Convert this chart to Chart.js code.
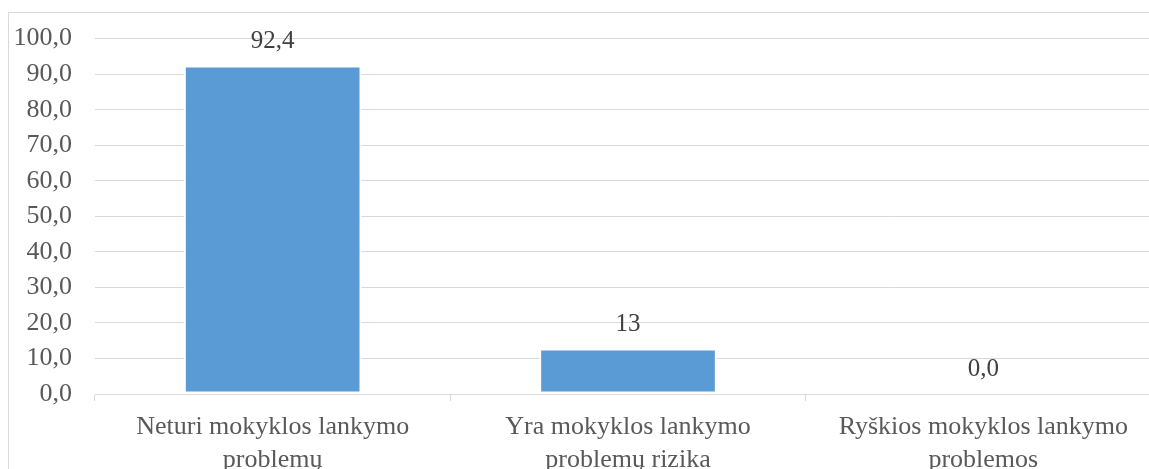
<!DOCTYPE html>
<html>
<head>
<meta charset="utf-8">
<script src="https://cdn.jsdelivr.net/npm/chart.js@4/dist/chart.umd.min.js"></script>
<style>
  html, body { margin: 0; padding: 0; background: #fff; overflow: hidden; width: 1149px; height: 469px; }
  #frame { position: absolute; left: 8px; top: 12px; width: 1200px; height: 500px; border: 1px solid #d9d9d9; box-sizing: border-box; }
  #wrap { position: absolute; left: 0; top: 0; width: 1175px; height: 469px; }
</style>
</head>
<body>
<div id="frame"></div>
<div id="wrap"><canvas id="c" width="1175" height="469"></canvas></div>
<script>
const categories = [
  ["Neturi mokyklos lankymo", "problemų"],
  ["Yra mokyklos lankymo", "problemų rizika"],
  ["Ryškios mokyklos lankymo", "problemos"]
];
const values = [92.4, 12.8, 0.0];
const valueLabels = ["92,4", "13", "0,0"];
const yMin = 0, yMax = 100, yStep = 10;

const FONT = "'Liberation Serif', 'Times New Roman', serif";

const dataLabelPlugin = {
  id: 'dataLabels',
  afterDatasetsDraw(chart) {
    const ctx = chart.ctx;
    const meta = chart.getDatasetMeta(0);
    ctx.save();
    ctx.font = "25px " + FONT;
    ctx.fillStyle = "#404040";
    ctx.textAlign = "center";
    ctx.textBaseline = "alphabetic";
    meta.data.forEach((bar, i) => {
      ctx.fillText(valueLabels[i], bar.x, bar.y - 18);
    });
    ctx.restore();
  }
};

new Chart(document.getElementById('c'), {
  type: 'bar',
  data: {
    labels: categories,
    datasets: [{
      data: values,
      backgroundColor: '#5b9bd5',
      borderColor: '#ffffff',
      borderWidth: 2,
      borderSkipped: false,
      barPercentage: 0.5,
      categoryPercentage: 1.0
    }]
  },
  options: {
    responsive: false,
    animation: false,
    devicePixelRatio: 1,
    layout: { padding: { top: 38, right: 14, left: 0, bottom: 0 } },
    plugins: { legend: { display: false }, tooltip: { enabled: false } },
    scales: {
      x: {
        afterFit(scale) { scale.height = 75; },
        grid: { offset: true, drawOnChartArea: false, drawTicks: true, tickLength: 7, color: '#d9d9d9', lineWidth: 1 },
        border: { display: true, color: '#d9d9d9', width: 1 },
        ticks: { color: '#595959', font: { family: FONT, size: 26, lineHeight: 1.25 }, padding: 10, maxRotation: 0, autoSkip: false }
      },
      y: {
        min: yMin, max: yMax,
        afterFit(scale) { scale.width = 95; },
        grid: { drawTicks: false, color: '#d9d9d9', lineWidth: 1 },
        border: { display: false },
        ticks: {
          stepSize: yStep,
          color: '#595959',
          padding: 23,
          font: { family: FONT, size: 26 },
          callback: (v) => Number(v).toFixed(1).replace('.', ',')
        }
      }
    }
  },
  plugins: [dataLabelPlugin]
});
</script>
</body>
</html>
